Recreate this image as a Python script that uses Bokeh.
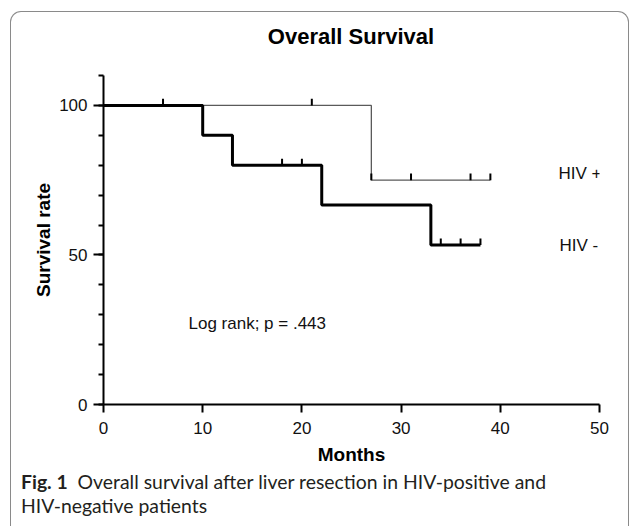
from bokeh.plotting import figure
from bokeh.models import Range1d, FixedTicker, Label, Div
from bokeh.layouts import column
from bokeh.embed import file_html
from bokeh.resources import INLINE

# ---- data ----
hiv_pos_time = [0, 27, 39]
hiv_pos_surv = [100, 75, 75]
hiv_neg_time = [0, 10, 13, 22, 33, 38]
hiv_neg_surv = [100, 90, 80, 66.7, 53.3, 53.3]

hiv_pos_censor_time = [6, 21, 27, 31, 37, 39]
hiv_pos_censor_surv = [100, 100, 75, 75, 75, 75]
hiv_neg_censor_time = [18, 20, 34, 36, 38]
hiv_neg_censor_surv = [80, 80, 53.3, 53.3, 53.3]

x_ticks = [0, 10, 20, 30, 40, 50]
y_ticks = [0, 50, 100]
y_minor_ticks = [0, 10, 20, 30, 40, 50, 60, 70, 80, 90, 100, 110]

title_text = "Overall Survival"
x_label = "Months"
y_label = "Survival rate"
logrank_text = "Log rank; p = .443"
series_names = ["HIV +", "HIV -"]
caption_bold = "Fig. 1"
caption_line1 = "Overall survival after liver resection in HIV-positive and"
caption_line2 = "HIV-negative patients"

FONT = "Liberation Sans"
CAP_FONT = "Lato"

# title (HTML, centred over the plotting frame)
title_div = Div(
    text=(f'<div style="padding-top:12px; margin-left:63px; width:554px; text-align:center; '
          f'font-family:\'{FONT}\'; font-weight:bold; font-size:22px; line-height:26px; '
          f'color:black; white-space:nowrap;">{title_text}</div>'),
    width=617, height=50, margin=0)

p = figure(width=617, height=410, output_backend="svg", toolbar_location=None,
           x_range=Range1d(0, 50), y_range=Range1d(0, 110),
           min_border_left=92, min_border_right=29, min_border_top=13,
           min_border_bottom=68)
p.grid.visible = False
p.outline_line_color = None
p.background_fill_color = "white"
p.border_fill_color = "white"

for ax in (p.xaxis, p.yaxis):
    ax.axis_line_width = 2
    ax.axis_line_color = "black"
    ax.major_tick_line_width = 2
    ax.major_tick_line_color = "black"
    ax.minor_tick_line_width = 2
    ax.minor_tick_line_color = "black"
    ax.major_tick_in = 0
    ax.minor_tick_in = 0
    ax.major_label_text_font = FONT
    ax.major_label_text_font_size = "17px"
    ax.major_label_text_color = "#111111"
    ax.axis_label_text_font = FONT
    ax.axis_label_text_font_size = "19px"
    ax.axis_label_text_font_style = "bold"
    ax.axis_label_text_color = "black"

p.xaxis.ticker = FixedTicker(ticks=x_ticks)
p.xaxis.major_tick_out = 8
p.xaxis.major_label_standoff = 9
p.xaxis.axis_label = x_label
p.xaxis.axis_label_standoff = 7

p.yaxis.ticker = FixedTicker(ticks=y_ticks, minor_ticks=y_minor_ticks)
p.yaxis.major_tick_out = 10
p.yaxis.minor_tick_out = 5
p.yaxis.major_label_standoff = 6
p.yaxis.axis_label = y_label
p.yaxis.axis_label_standoff = 2

# survival curves
p.step(hiv_pos_time, hiv_pos_surv, mode="after", line_color="#5a5a5a", line_width=1.3)
p.step(hiv_neg_time, hiv_neg_surv, mode="after", line_color="black", line_width=3)

# censor marks (small upward ticks)
tick_h = 2.2
p.segment(x0=hiv_pos_censor_time, y0=hiv_pos_censor_surv,
          x1=hiv_pos_censor_time, y1=[s + tick_h for s in hiv_pos_censor_surv],
          line_color="black", line_width=2)
p.segment(x0=hiv_neg_censor_time, y0=hiv_neg_censor_surv,
          x1=hiv_neg_censor_time, y1=[s + tick_h for s in hiv_neg_censor_surv],
          line_color="black", line_width=2)

# texts inside the frame
p.add_layout(Label(x=8.57, y=27.2, text=logrank_text, text_font=FONT, text_font_size="17px",
                   text_baseline="alphabetic", text_color="#111111"))
p.add_layout(Label(x=45.87, y=77.4, text=series_names[0], text_font=FONT, text_font_size="17px",
                   text_baseline="alphabetic", text_color="#111111"))
p.add_layout(Label(x=45.97, y=53.3, text=series_names[1], text_font=FONT, text_font_size="17px",
                   text_baseline="alphabetic", text_color="#111111"))

# caption below the chart
cap = Div(
    text=(f'<div style="margin-top:-2px; padding-left:10px; white-space:nowrap; '
          f'font-family:{CAP_FONT}; font-size:19.4px; line-height:24px; color:#231f20;">'
          f'<b>{caption_bold}</b>&nbsp;&nbsp;{caption_line1}<br>{caption_line2}</div>'),
    width=617, height=54, margin=0)

layout = column(title_div, p, cap, margin=(11, 0, 0, 10),
                styles={"border": "1px solid #8a8a8a", "border-bottom": "none",
                        "border-radius": "11px 11px 0 0", "background": "white"})

open("out.html", "w").write(file_html(layout, INLINE))
